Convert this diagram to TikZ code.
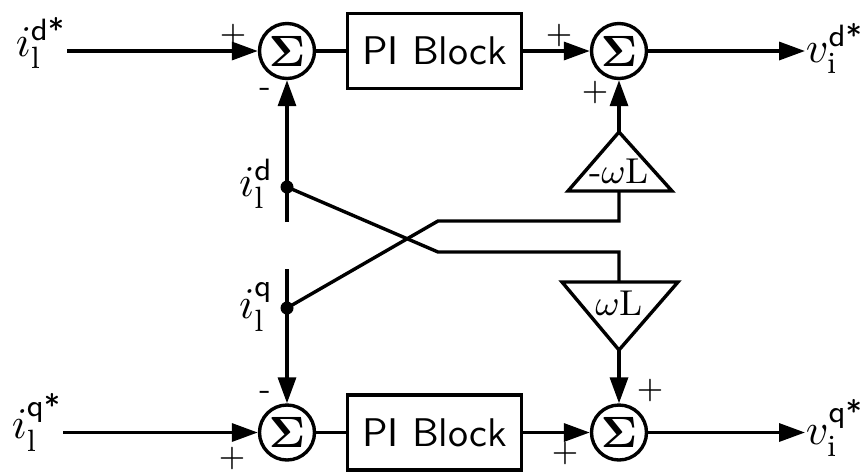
\documentclass[tikz,border=0pt]{standalone}
\usepackage{amsmath}
\usepackage{fontspec}
\usetikzlibrary{arrows.meta}
\newcommand{\bsig}{{\usefont{OT1}{cmr}{bx}{n}\char"06}}
\tikzset{
  sumnode/.style={circle, draw, line width=0.85pt, minimum size=13.75pt, inner sep=0pt, font=\fontsize{10.5}{11}\selectfont},
  piblock/.style={draw, line width=0.85pt, minimum width=43.5pt, minimum height=18.75pt, inner sep=0pt, font=\sffamily\fontsize{10}{12}\selectfont},
  sig/.style={font=\sffamily\fontsize{8}{9}\selectfont, inner sep=0pt},
  lbl/.style={font=\fontsize{11}{13}\selectfont, inner sep=0pt},
  glbl/.style={font=\fontsize{9}{10}\selectfont, inner sep=0pt},
  conn/.style={line width=0.85pt},
  arr/.style={conn, -{Triangle[length=6.5pt,width=4.5pt]}},
  dotn/.style={circle, fill, inner sep=0pt, minimum size=3.25pt},
  tri/.style={line width=0.85pt, line join=miter}
}
\begin{document}
\begin{tikzpicture}[x=0.25pt, y=-0.25pt]
\useasboundingbox (0,0) rectangle (868,473);
% top row
\node[sumnode] (s1) at (287,51) {\bsig};
\node[piblock] (pi1) at (434.5,51) {PI Block};
\node[sumnode] (s2) at (619,51) {\bsig};
% bottom row
\node[sumnode] (s3) at (287,432.5) {\bsig};
\node[piblock] (pi2) at (434.5,432.5) {PI Block};
\node[sumnode] (s4) at (619,432.5) {\bsig};
% input / output labels
\node[lbl, anchor=base east] (in1) at (67,56) {$i_{\mathrm{l}}^{\textsf{d*}}$};
\node[lbl, anchor=base east] (in2) at (63,438) {$i_{\mathrm{l}}^{\textsf{q*}}$};
\node[lbl, anchor=base west] (out1) at (805,62) {$v_{\mathrm{i}}^{\textsf{d*}}$};
\node[lbl, anchor=base west] (out2) at (805,444) {$v_{\mathrm{i}}^{\textsf{q*}}$};
% feedback labels
\node[lbl, anchor=base east] (ld) at (274,196) {$i_{\mathrm{l}}^{\textsf{d}}$};
\node[lbl, anchor=base east] (lq) at (274,318) {$i_{\mathrm{l}}^{\textsf{q}}$};
% signs
\node[sig] (p1) at (233,35) {+};
\node[sig] (m1) at (265,92) {-};
\node[sig] (p2) at (559,35) {+};
\node[sig] (p3) at (595,92) {+};
\node[sig] (m3) at (265,395) {-};
\node[sig] (p4) at (232,458) {+};
\node[sig] (p5) at (650,390) {+};
\node[sig] (p6) at (565,453) {+};
% gain triangles
\coordinate (nwLapex) at (619,132);
\coordinate (nwLbase) at (619,191);
\draw[tri] (568,191) -- (nwLapex) -- (672,191) -- cycle;
\node[glbl, anchor=base] (nwL) at (619,183) {-$\omega$L};
\coordinate (wLapex) at (619,350);
\coordinate (wLbase) at (619,282);
\draw[tri] (562,282) -- (678,282) -- (wLapex) -- cycle;
\node[glbl, anchor=base] (wL) at (619,315) {$\omega$L};
% taps
\coordinate (vd) at (287,222);
\coordinate (vq) at (287,269);
\node[dotn] (dd) at (287,187) {};
\node[dotn] (dq) at (287,308) {};
\coordinate (bd) at (438,252);
\coordinate (bdr) at (619,252);
\coordinate (bq) at (438,221);
\coordinate (bqr) at (619,221);
% connectors
\draw[arr] (in1.east |- s1) -- (s1);
\draw[conn] (s1) -- (pi1);
\draw[arr] (pi1) -- (s2);
\draw[arr] (s2) -- (out1.west |- s2);
\draw[arr] (in2.east |- s3) -- (s3);
\draw[conn] (s3) -- (pi2);
\draw[arr] (pi2) -- (s4);
\draw[arr] (s4) -- (out2.west |- s4);
\draw[arr] (vd) -- (s1);
\draw[arr] (vq) -- (s3);
\draw[conn] (dd.center) -- (bd) -- (bdr) -- (wLbase);
\draw[conn] (dq.center) -- (bq) -- (bqr) -- (nwLbase);
\draw[arr] (nwLapex) -- (s2);
\draw[arr] (wLapex) -- (s4);
\end{tikzpicture}
\end{document}
